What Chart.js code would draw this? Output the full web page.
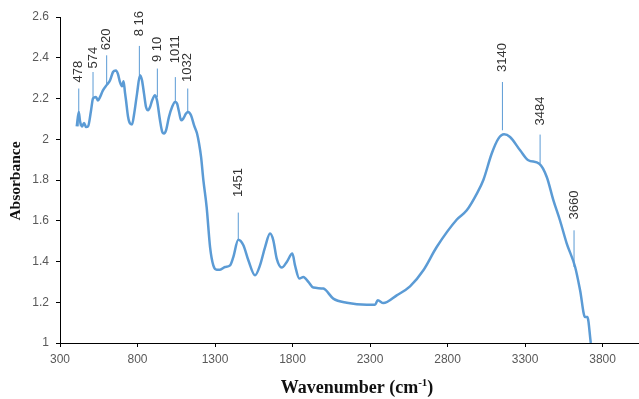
<!DOCTYPE html>
<html>
<head>
<meta charset="utf-8">
<script src="https://cdn.jsdelivr.net/npm/chart.js@4.4.1/dist/chart.umd.min.js"></script>
<style>
    html, body { margin: 0; padding: 0; background: #fff; }
    #wrap { width: 639px; height: 399px; position: relative; }
</style>
</head>
<body>
<div id="wrap"><canvas id="chart"></canvas></div>
<script>
// spectrum
const wavenumbers = [408, 421, 429, 442, 455, 468, 481, 500, 513, 532, 545, 558, 577, 603, 623, 642, 661, 674, 687, 700, 710, 719, 726, 739, 752, 765, 777, 797, 816, 829, 842, 855, 868, 881, 894, 913, 926, 945, 958, 971, 984, 1003, 1023, 1042, 1055, 1068, 1081, 1094, 1113, 1126, 1145, 1165, 1184, 1197, 1210, 1225, 1246, 1268, 1289, 1311, 1332, 1365, 1397, 1418, 1450, 1483, 1515, 1558, 1590, 1623, 1655, 1676, 1698, 1730, 1763, 1799, 1816, 1844, 1870, 1902, 1934, 1999, 2063, 2150, 2279, 2332, 2350, 2386, 2472, 2558, 2644, 2730, 2860, 2924, 2989, 3031, 3085, 3128, 3165, 3203, 3268, 3321, 3392, 3440, 3483, 3526, 3569, 3623, 3655, 3687, 3702, 3724];
const absorbance = [2.063, 2.134, 2.09, 2.063, 2.08, 2.06, 2.063, 2.14, 2.20, 2.207, 2.19, 2.207, 2.24, 2.268, 2.29, 2.33, 2.338, 2.32, 2.28, 2.26, 2.285, 2.23, 2.19, 2.11, 2.077, 2.073, 2.118, 2.224, 2.314, 2.289, 2.224, 2.158, 2.142, 2.158, 2.19, 2.216, 2.19, 2.093, 2.04, 2.028, 2.044, 2.11, 2.158, 2.183, 2.175, 2.134, 2.093, 2.10, 2.126, 2.134, 2.118, 2.068, 2.028, 1.979, 1.913, 1.798, 1.667, 1.471, 1.381, 1.36, 1.36, 1.373, 1.381, 1.422, 1.507, 1.48, 1.406, 1.332, 1.381, 1.471, 1.537, 1.504, 1.414, 1.37, 1.398, 1.439, 1.381, 1.316, 1.324, 1.30, 1.272, 1.267, 1.218, 1.198, 1.188, 1.188, 1.21, 1.196, 1.234, 1.278, 1.357, 1.471, 1.606, 1.651, 1.733, 1.80, 1.93, 2.003, 2.024, 2.011, 1.946, 1.897, 1.88, 1.815, 1.70, 1.60, 1.488, 1.373, 1.259, 1.127, 1.127, 1.0];

// peak markers: text, position on the axis, line base/top, where the text starts
const peakLabels = ['478', '574', '620', '8 16', '9 10', '1011', '1032', '1451', '3140', '3484', '3660'];
const peakPos = [421, 513, 601, 812, 928, 1044, 1124, 1450, 3154, 3397, 3616];
const peakBase = [2.063, 2.20, 2.268, 2.314, 2.207, 2.183, 2.134, 1.509, 2.044, 1.882, 1.373];
const peakTop = [2.249, 2.33, 2.412, 2.458, 2.347, 2.305, 2.249, 1.64, 2.281, 2.023, 1.553];
const peakText = [2.279, 2.347, 2.437, 2.505, 2.379, 2.373, 2.281, 1.717, 2.33, 2.068, 1.606];

const xTicks = [300, 800, 1300, 1800, 2300, 2800, 3300, 3800];
const xMin = 300, xMax = 4035;
const yMin = 1, yMax = 2.6, yStep = 0.2;

const lineColor = '#5B9BD5';

const peakPlugin = {
    id: 'peaks',
    afterDatasetsDraw(chart) {
        const ctx = chart.ctx;
        const x = chart.scales.x, y = chart.scales.y;
        ctx.save();
        peakLabels.forEach((label, i) => {
            const px = x.getPixelForValue(peakPos[i]);
            ctx.strokeStyle = lineColor;
            ctx.lineWidth = 1;
            ctx.beginPath();
            ctx.moveTo(px, y.getPixelForValue(peakBase[i]));
            ctx.lineTo(px, y.getPixelForValue(peakTop[i]));
            ctx.stroke();

            ctx.save();
            ctx.translate(px, y.getPixelForValue(peakText[i]));
            ctx.rotate(-Math.PI / 2);
            ctx.fillStyle = '#333';
            ctx.font = '13px "Liberation Sans", Arial, sans-serif';
            ctx.textAlign = 'left';
            ctx.textBaseline = 'middle';
            ctx.fillText(label, 0, 0);
            ctx.restore();
        });
        ctx.restore();
    },
    afterDraw(chart) {
        const ctx = chart.ctx;
        const area = chart.chartArea;
        ctx.save();
        ctx.fillStyle = '#111';

        // y title
        ctx.save();
        ctx.translate(16, (area.top + area.bottom) / 2 + 1);
        ctx.rotate(-Math.PI / 2);
        ctx.font = 'bold 15.5px "Liberation Serif", "Times New Roman", serif';
        ctx.textAlign = 'center';
        ctx.textBaseline = 'middle';
        ctx.fillText('Absorbance', 0, 0);
        ctx.restore();

        // x title with superscript
        const main = 'Wavenumber (cm';
        const sup = '-1';
        const close = ')';
        const mainFont = 'bold 18px "Liberation Serif", "Times New Roman", serif';
        const supFont = 'bold 11px "Liberation Serif", "Times New Roman", serif';
        ctx.font = mainFont;
        const w1 = ctx.measureText(main).width;
        const w3 = ctx.measureText(close).width;
        ctx.font = supFont;
        const w2 = ctx.measureText(sup).width;
        const total = w1 + w2 + w3;
        let sx = 357 - total / 2;
        const baseY = 393;
        ctx.textAlign = 'left';
        ctx.textBaseline = 'alphabetic';
        ctx.font = mainFont;
        ctx.fillText(main, sx, baseY);
        ctx.font = supFont;
        ctx.fillText(sup, sx + w1, baseY - 7);
        ctx.font = mainFont;
        ctx.fillText(close, sx + w1 + w2, baseY);
        ctx.restore();
    }
};

new Chart(document.getElementById('chart'), {
    type: 'line',
    data: {
        datasets: [{
            data: wavenumbers.map((w, i) => ({ x: w, y: absorbance[i] })),
            borderColor: lineColor,
            borderWidth: 2.5,
            pointRadius: 0,
            fill: false,
            cubicInterpolationMode: 'monotone'
        }]
    },
    options: {
        responsive: true,
        maintainAspectRatio: false,
        animation: false,
        layout: { padding: { top: 17, right: 0, left: 0, bottom: 0 } },
        plugins: {
            legend: { display: false },
            tooltip: { enabled: false }
        },
        scales: {
            x: {
                type: 'linear',
                min: xMin,
                max: xMax,
                afterBuildTicks: axis => { axis.ticks = xTicks.map(v => ({ value: v })); },
                afterFit: axis => { axis.height = 56; },
                border: { color: '#000', width: 1 },
                grid: { drawOnChartArea: false, drawTicks: true, tickLength: 4, color: '#000' },
                ticks: {
                    color: '#595959',
                    font: { family: '"Liberation Sans", Arial, sans-serif', size: 12 },
                    padding: 5,
                    maxRotation: 0,
                    autoSkip: false,
                    callback: v => String(v)
                }
            },
            y: {
                min: yMin,
                max: yMax,
                afterFit: axis => { axis.width = 60; },
                border: { color: '#000', width: 1 },
                grid: { drawOnChartArea: false, drawTicks: true, tickLength: 4, color: '#000' },
                ticks: {
                    stepSize: yStep,
                    color: '#595959',
                    font: { family: '"Liberation Sans", Arial, sans-serif', size: 12 },
                    padding: 7,
                    callback: v => String(Number(v.toFixed(1)))
                }
            }
        }
    },
    plugins: [peakPlugin]
});
</script>
</body>
</html>
